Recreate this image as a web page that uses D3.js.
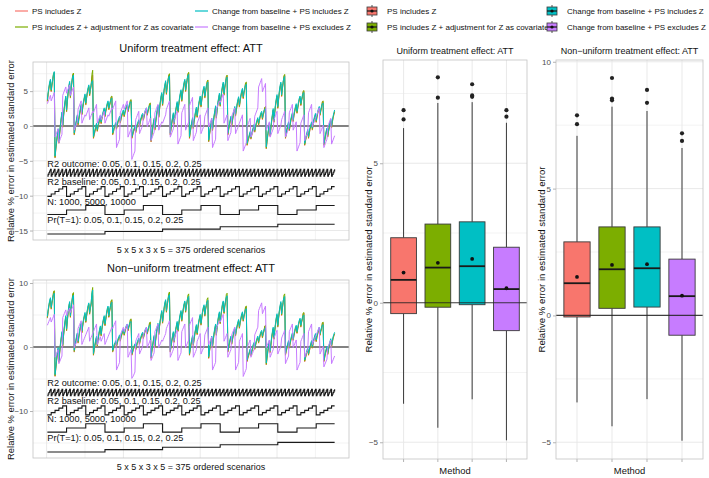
<!DOCTYPE html>
<html><head><meta charset="utf-8">
<script src="https://cdn.jsdelivr.net/npm/d3@7"></script>
<style>body{margin:0;background:#fff}text{font-family:"Liberation Sans",Arial,Helvetica,sans-serif}</style>
</head><body><svg id="c" width="709" height="478"></svg>
<script>
// ---------------- DATA ----------------
const methods = ["PS includes Z","PS includes Z + adjustment for Z as covariate","Change from baseline + PS includes Z","Change from baseline + PS excludes Z"];
const methodColors = ["#F8766D","#7CAE00","#00BFC4","#C77CFF"];

const r2OutcomeLevels = [0.05,0.1,0.15,0.2,0.25];
const r2BaselineLevels = [0.05,0.1,0.15,0.2,0.25];
const nLevels = [1000,5000,10000];
const prTreatLevels = [0.05,0.1,0.15,0.2,0.25];
const factorLabels = ["R2 outcome: 0.05, 0.1, 0.15, 0.2, 0.25","R2 baseline: 0.05, 0.1, 0.15, 0.2, 0.25","N: 1000, 5000, 10000","Pr(T=1): 0.05, 0.1, 0.15, 0.2, 0.25"];
const xLabel = "5 x 5 x 3 x 5 = 375 ordered scenarios";
const yLabel = "Relative % error in estimated standard error";

// Uniform treatment effect: relative % error, 375 ordered scenarios per method
const uniformPSZ = [
3.5,4.5,5.3,6.0,6.4,4.9,5.8,6.5,7.4,7.6,-4.6,-3.4,-2.4,-1.5,-0.7,-2.5,-1.2,-0.1,0.9,1.7,-0.2,1.2,2.4,3.3,4.0,
2.0,3.4,4.6,5.5,6.1,4.0,5.3,6.2,7.3,7.5,-1.3,-0.6,0.1,0.7,1.3,0.1,0.9,1.6,2.2,2.8,1.6,2.5,3.2,3.8,4.3,
3.0,3.9,4.6,5.2,5.6,4.3,5.1,5.7,7.0,7.3,-1.8,-1.3,-0.8,-0.3,0.1,-0.8,-0.2,0.3,0.8,1.2,0.3,1.0,1.5,1.9,2.3,
1.3,2.0,2.5,3.0,3.3,2.3,2.9,3.3,4.1,4.2,-1.3,-0.9,-0.4,-0.1,0.2,-0.5,0.0,0.5,0.8,1.1,0.4,1.0,1.4,1.8,2.0,
1.3,1.8,2.3,2.6,2.8,2.0,2.5,2.9,3.6,3.7,-1.8,-1.4,-0.9,-0.6,-0.3,-1.0,-0.5,0.0,0.3,0.6,-0.1,0.5,0.9,1.3,1.5,
0.8,1.3,1.8,2.1,2.3,1.5,2.0,2.4,3.1,3.2,-2.3,-1.4,-0.6,0.2,0.8,-0.6,0.4,1.3,2.0,2.7,1.2,2.3,3.2,4.0,4.5,
2.9,4.0,5.0,5.7,6.2,4.5,5.5,6.3,7.2,7.4,-1.3,-0.5,0.3,1.0,1.6,0.2,1.1,2.0,2.6,3.2,1.9,2.9,3.7,4.4,4.9,
3.5,4.5,5.3,6.0,6.4,4.9,5.8,6.5,7.4,7.6,-1.8,-1.0,-0.3,0.3,0.9,-0.4,0.5,1.2,1.9,2.4,1.2,2.1,2.9,3.5,4.0,
2.7,3.6,4.4,5.0,5.4,4.0,4.8,5.5,6.3,6.5,-2.3,-1.4,-0.6,0.1,0.8,-0.7,0.3,1.2,1.9,2.6,1.1,2.2,3.1,3.8,4.4,
2.8,3.9,4.8,5.5,6.0,4.4,5.4,6.1,7.0,7.2,-1.3,-0.6,0.0,0.6,1.1,0.0,0.7,1.4,2.0,2.5,1.4,2.2,2.9,3.5,3.9,
2.7,3.5,4.2,4.8,5.1,3.9,4.7,5.2,6.1,6.2,-2.8,-2.3,-1.9,-1.5,-1.1,-1.9,-1.4,-0.9,-0.5,-0.1,-0.9,-0.3,0.2,0.6,0.9,
0.1,0.7,1.2,1.6,1.8,0.9,1.5,1.9,2.6,2.7,-3.3,-2.3,-1.4,-0.6,0.1,-1.5,-0.4,0.6,1.4,2.2,0.5,1.8,2.8,3.6,4.2,
2.5,3.7,4.7,5.5,6.0,4.2,5.3,6.1,7.1,7.3,-1.8,-1.2,-0.6,-0.1,0.3,-0.7,0.0,0.7,1.2,1.6,0.6,1.4,2.0,2.5,2.9,
1.8,2.5,3.2,3.7,4.0,2.9,3.6,4.1,4.9,5.0,-2.8,-2.2,-1.7,-1.2,-0.8,-1.8,-1.1,-0.5,-0.1,0.3,-0.6,0.1,0.7,1.1,1.5,
0.5,1.2,1.8,2.2,2.5,1.5,2.1,2.6,3.4,3.5,-2.8,-2.2,-1.6,-1.0,-0.6,-1.6,-0.9,-0.3,0.3,0.7,-0.3,0.5,1.1,1.6,2.0];
const uniformPSZAdj = [
3.6,4.6,5.4,6.1,6.5,5.0,5.9,6.6,7.5,7.7,-4.5,-3.3,-2.3,-1.4,-0.6,-2.4,-1.1,0.0,1.0,1.8,-0.1,1.3,2.5,3.4,4.1,
2.1,3.5,4.7,5.6,6.2,4.1,5.4,6.3,7.4,7.6,-1.2,-0.5,0.2,0.8,1.4,0.2,1.0,1.7,2.3,2.9,1.7,2.6,3.3,3.9,4.4,
3.1,4.0,4.7,5.3,5.7,4.4,5.2,5.8,7.4,8.0,-1.7,-1.2,-0.7,-0.2,0.2,-0.7,-0.1,0.4,0.9,1.3,0.4,1.1,1.6,2.0,2.4,
1.4,2.1,2.6,3.1,3.4,2.4,3.0,3.4,4.2,4.3,-1.2,-0.8,-0.3,0.0,0.3,-0.4,0.1,0.6,0.9,1.2,0.5,1.1,1.5,1.9,2.1,
1.4,1.9,2.4,2.7,2.9,2.1,2.6,3.0,3.7,3.8,-1.7,-1.3,-0.8,-0.5,-0.2,-0.9,-0.4,0.1,0.4,0.7,0.0,0.6,1.0,1.4,1.6,
0.9,1.4,1.9,2.2,2.4,1.6,2.1,2.5,3.2,3.3,-2.2,-1.3,-0.5,0.3,0.9,-0.5,0.5,1.4,2.1,2.8,1.3,2.4,3.3,4.1,4.6,
3.0,4.1,5.1,5.8,6.3,4.6,5.6,6.4,7.3,7.5,-1.2,-0.4,0.4,1.1,1.7,0.3,1.2,2.1,2.7,3.3,2.0,3.0,3.8,4.5,5.0,
3.6,4.6,5.4,6.1,6.5,5.0,5.9,6.6,7.5,7.7,-1.7,-0.9,-0.2,0.4,1.0,-0.3,0.6,1.3,2.0,2.5,1.3,2.2,3.0,3.6,4.1,
2.8,3.7,4.5,5.1,5.5,4.1,4.9,5.6,6.4,6.6,-2.2,-1.3,-0.5,0.2,0.9,-0.6,0.4,1.3,2.0,2.7,1.2,2.3,3.2,3.9,4.5,
2.9,4.0,4.9,5.6,6.1,4.5,5.5,6.2,7.1,7.3,-1.2,-0.5,0.1,0.7,1.2,0.1,0.8,1.5,2.1,2.6,1.5,2.3,3.0,3.6,4.0,
2.8,3.6,4.3,4.9,5.2,4.0,4.8,5.3,6.2,6.3,-2.7,-2.2,-1.8,-1.4,-1.0,-1.8,-1.3,-0.8,-0.4,0.0,-0.8,-0.2,0.3,0.7,1.0,
0.2,0.8,1.3,1.7,1.9,1.0,1.6,2.0,2.7,2.8,-3.2,-2.2,-1.3,-0.5,0.2,-1.4,-0.3,0.7,1.5,2.3,0.6,1.9,2.9,3.7,4.3,
2.6,3.8,4.8,5.6,6.1,4.3,5.4,6.2,7.2,7.4,-1.7,-1.1,-0.5,0.0,0.4,-0.6,0.1,0.8,1.3,1.7,0.7,1.5,2.1,2.6,3.0,
1.9,2.6,3.3,3.8,4.1,3.0,3.7,4.2,5.0,5.1,-2.7,-2.1,-1.6,-1.1,-0.7,-1.7,-1.0,-0.4,0.0,0.4,-0.5,0.2,0.8,1.2,1.6,
0.6,1.3,1.9,2.3,2.6,1.6,2.2,2.7,3.5,3.6,-2.7,-2.1,-1.5,-0.9,-0.5,-1.5,-0.8,-0.2,0.4,0.8,-0.2,0.6,1.2,1.7,2.1];
const uniformCBPSZ = [
3.8,4.8,5.6,6.3,6.7,5.2,6.1,6.8,7.4,7.8,-4.3,-3.1,-2.1,-1.2,-0.4,-2.2,-0.9,0.2,1.2,2.0,0.1,1.5,2.7,3.6,4.3,
2.3,3.7,4.9,5.8,6.4,4.3,5.6,6.5,7.1,7.3,-1.0,-0.3,0.4,1.0,1.6,0.4,1.2,1.9,2.5,3.1,1.9,2.8,3.5,4.1,4.6,
3.3,4.2,4.9,5.5,5.9,4.6,5.4,6.0,6.4,6.5,-1.5,-1.0,-0.5,0.0,0.4,-0.5,0.1,0.6,1.1,1.5,0.6,1.3,1.8,2.2,2.6,
1.6,2.3,2.8,3.3,3.6,2.6,3.2,3.6,3.9,4.0,-1.0,-0.6,-0.1,0.2,0.5,-0.2,0.3,0.8,1.1,1.4,0.7,1.3,1.7,2.1,2.3,
1.6,2.1,2.6,2.9,3.1,2.3,2.8,3.2,3.4,3.5,-1.5,-1.1,-0.6,-0.3,0.0,-0.7,-0.2,0.3,0.6,0.9,0.2,0.8,1.2,1.6,1.8,
1.1,1.6,2.1,2.4,2.6,1.8,2.3,2.7,2.9,3.0,-2.0,-1.1,-0.3,0.5,1.1,-0.3,0.7,1.6,2.3,3.0,1.5,2.6,3.5,4.3,4.8,
3.2,4.3,5.3,6.0,6.5,4.8,5.8,6.6,7.0,7.2,-1.0,-0.2,0.6,1.3,1.9,0.5,1.4,2.3,2.9,3.5,2.2,3.2,4.0,4.7,5.2,
3.8,4.8,5.6,6.3,6.7,5.2,6.1,6.8,7.2,7.4,-1.5,-0.7,0.0,0.6,1.2,-0.1,0.8,1.5,2.2,2.7,1.5,2.4,3.2,3.8,4.3,
3.0,3.9,4.7,5.3,5.7,4.3,5.1,5.8,6.1,6.3,-2.0,-1.1,-0.3,0.4,1.1,-0.4,0.6,1.5,2.2,2.9,1.4,2.5,3.4,4.1,4.7,
3.1,4.2,5.1,5.8,6.3,4.7,5.7,6.4,6.8,7.0,-1.0,-0.3,0.3,0.9,1.4,0.3,1.0,1.7,2.3,2.8,1.7,2.5,3.2,3.8,4.2,
3.0,3.8,4.5,5.1,5.4,4.2,5.0,5.5,5.9,6.0,-2.5,-2.0,-1.6,-1.2,-0.8,-1.6,-1.1,-0.6,-0.2,0.2,-0.6,0.0,0.5,0.9,1.2,
0.4,1.0,1.5,1.9,2.1,1.2,1.8,2.2,2.4,2.5,-3.0,-2.0,-1.1,-0.3,0.4,-1.2,-0.1,0.9,1.7,2.5,0.8,2.1,3.1,3.9,4.5,
2.8,4.0,5.0,5.8,6.3,4.5,5.6,6.4,6.9,7.1,-1.5,-0.9,-0.3,0.2,0.6,-0.4,0.3,1.0,1.5,1.9,0.9,1.7,2.3,2.8,3.2,
2.1,2.8,3.5,4.0,4.3,3.2,3.9,4.4,4.7,4.8,-2.5,-1.9,-1.4,-0.9,-0.5,-1.5,-0.8,-0.2,0.2,0.6,-0.3,0.4,1.0,1.4,1.8,
0.8,1.5,2.1,2.5,2.8,1.8,2.4,2.9,3.2,3.3,-2.5,-1.9,-1.3,-0.7,-0.3,-1.3,-0.6,0.0,0.6,1.0,0.0,0.8,1.4,1.9,2.3];
const uniformCBPSnoZ = [
3.2,3.5,3.8,4.1,4.4,3.6,3.9,4.2,4.5,4.8,-1.6,-1.3,-1.0,-0.7,-0.4,-2.4,-2.1,-1.8,-1.5,-1.2,4.4,4.7,5.0,5.3,5.6,
4.7,5.0,5.3,5.6,5.9,4.4,4.7,5.0,5.3,5.6,-0.6,-0.3,0.0,0.3,0.6,2.4,2.7,3.0,3.3,3.6,0.4,0.7,1.0,1.3,1.6,
1.4,1.7,2.0,2.3,2.6,0.9,1.2,1.5,1.8,2.1,1.9,2.2,2.5,2.8,3.1,0.4,0.7,1.0,1.3,1.6,0.9,1.2,1.5,1.8,2.1,
0.4,0.7,1.0,1.3,1.6,1.4,1.7,2.0,2.3,2.6,2.4,2.7,3.0,3.3,3.6,-3.1,-2.8,-2.5,-2.2,-1.9,1.9,2.2,2.5,2.8,3.1,
2.4,2.7,3.0,3.3,3.6,-1.6,-1.3,-1.0,-0.7,-0.4,-4.8,-4.5,-4.2,-3.9,-3.6,0.9,1.2,1.5,1.8,2.1,-1.1,-0.8,-0.5,-0.2,0.1,
1.4,1.7,2.0,2.3,2.6,-0.1,0.2,0.5,0.8,1.1,-2.1,-1.8,-1.5,-1.2,-0.9,1.9,2.2,2.5,2.8,3.1,-0.6,-0.3,0.0,0.3,0.6,
0.4,0.7,1.0,1.3,1.6,2.4,2.7,3.0,3.3,3.6,-1.6,-1.3,-1.0,-0.7,-0.4,0.9,1.2,1.5,1.8,2.1,-2.6,-2.3,-2.0,-1.7,-1.4,
1.9,2.2,2.5,2.8,3.1,-0.6,-0.3,0.0,0.3,0.6,2.9,3.2,3.5,3.8,4.1,-2.1,-1.8,-1.5,-1.2,-0.9,0.4,0.7,1.0,1.3,1.6,
-1.1,-0.8,-0.5,-0.2,0.1,1.4,1.7,2.0,2.3,2.6,-0.1,0.2,0.5,0.8,1.1,-3.1,-2.8,-2.5,-2.2,-1.9,2.4,2.7,3.0,3.3,3.6,
3.4,3.7,4.0,4.3,4.6,0.4,0.7,1.0,1.3,1.6,-2.1,-1.8,-1.5,-1.2,-0.9,1.4,1.7,2.0,2.3,2.6,-1.1,-0.8,-0.5,-0.2,0.1,
0.4,0.7,1.0,1.3,1.6,-3.6,-3.3,-3.0,-2.7,-2.4,-0.1,0.2,0.5,0.8,1.1,-1.6,-1.3,-1.0,-0.7,-0.4,1.4,1.7,2.0,2.3,2.6,
5.6,5.9,6.2,6.5,6.8,4.9,5.2,5.5,5.8,6.1,-0.6,-0.3,0.0,0.3,0.6,-1.6,-1.3,-1.0,-0.7,-0.4,0.9,1.2,1.5,1.8,2.1,
-1.1,-0.8,-0.5,-0.2,0.1,0.9,1.2,1.5,1.8,2.1,-1.6,-1.3,-1.0,-0.7,-0.4,1.9,2.2,2.5,2.8,3.1,-0.6,-0.3,0.0,0.3,0.6,
-3.6,-3.3,-3.0,-2.7,-2.4,0.4,0.7,1.0,1.3,1.6,-2.1,-1.8,-1.5,-1.2,-0.9,1.9,2.2,2.5,2.8,3.1,-0.1,0.2,0.5,0.8,1.1,
1.4,1.7,2.0,2.3,2.6,-1.1,-0.8,-0.5,-0.2,0.1,-3.1,-2.8,-2.5,-2.2,-1.9,-0.1,0.2,0.5,0.8,1.1,-2.6,-2.3,-2.0,-1.7,-1.4];

// Non-uniform treatment effect
const nonuniformPSZ = [
4.5,5.5,6.3,7.0,7.4,5.9,6.8,7.5,8.5,8.7,-4.6,-3.4,-2.2,-1.2,-0.4,-2.4,-1.0,0.2,1.2,2.1,0.1,1.6,2.8,3.8,4.6,
2.5,4.0,5.2,6.2,6.8,4.6,5.9,6.9,8.2,8.4,-0.8,0.0,0.7,1.4,1.9,0.6,1.5,2.3,3.0,3.5,2.2,3.2,4.0,4.6,5.1,
3.8,4.7,5.5,6.2,6.6,5.1,6.0,6.6,7.8,8.0,-1.3,-0.5,0.2,0.9,1.4,0.1,1.0,1.8,2.5,3.0,1.7,2.7,3.5,4.1,4.6,
3.3,4.2,5.0,5.7,6.1,4.6,5.5,6.1,7.1,7.3,-0.8,-0.4,0.1,0.4,0.7,0.0,0.5,1.0,1.3,1.6,0.9,1.5,1.9,2.3,2.5,
1.8,2.3,2.8,3.1,3.3,2.5,3.0,3.4,4.2,4.3,-1.3,-0.9,-0.4,-0.1,0.2,-0.5,0.0,0.5,0.8,1.1,0.4,1.0,1.4,1.8,2.0,
1.3,1.8,2.3,2.6,2.8,2.0,2.5,2.9,3.7,3.8,-1.8,-0.8,0.0,0.8,1.5,-0.1,1.0,2.0,2.8,3.4,1.9,3.1,4.0,4.8,5.4,
3.7,4.9,5.9,6.7,7.1,5.4,6.4,7.2,7.8,7.9,-0.8,0.0,0.8,1.5,2.1,0.7,1.6,2.5,3.1,3.7,2.4,3.4,4.2,4.9,5.4,
4.0,5.0,5.8,6.5,6.9,5.4,6.3,7.0,7.6,7.7,-1.3,-0.5,0.3,0.9,1.5,0.2,1.1,1.9,2.6,3.2,1.9,2.9,3.7,4.3,4.8,
3.4,4.4,5.3,5.9,6.3,4.8,5.8,6.4,7.1,7.2,-1.8,-0.8,0.0,0.8,1.4,-0.1,1.0,1.9,2.7,3.3,1.8,3.0,3.9,4.7,5.2,
3.6,4.8,5.7,6.5,6.9,5.2,6.3,7.0,7.6,7.8,-0.8,-0.1,0.4,1.0,1.4,0.4,1.1,1.7,2.3,2.7,1.7,2.5,3.1,3.6,4.0,
2.9,3.7,4.3,4.9,5.2,4.0,4.7,5.2,6.2,6.3,-2.3,-1.8,-1.4,-1.0,-0.6,-1.4,-0.9,-0.4,0.1,0.4,-0.4,0.2,0.7,1.1,1.4,
0.6,1.2,1.7,2.1,2.3,1.4,2.0,2.4,3.2,3.3,-2.8,-1.8,-0.8,0.0,0.7,-0.9,0.2,1.3,2.1,2.8,1.2,2.4,3.4,4.3,4.9,
3.1,4.4,5.4,6.2,6.8,4.9,6.0,6.9,7.6,7.8,-1.3,-0.7,-0.2,0.3,0.7,-0.2,0.4,1.0,1.5,1.9,1.0,1.7,2.3,2.8,3.1,
2.1,2.8,3.4,3.9,4.2,3.1,3.8,4.3,5.2,5.3,-2.3,-1.8,-1.3,-0.8,-0.4,-1.3,-0.7,-0.2,0.3,0.7,-0.2,0.5,1.0,1.4,1.8,
0.8,1.5,2.0,2.5,2.8,1.8,2.4,2.8,3.7,3.8,-2.3,-1.7,-1.1,-0.6,-0.2,-1.2,-0.5,0.1,0.6,1.0,0.0,0.7,1.3,1.7,2.0];
const nonuniformPSZAdj = [
4.6,5.6,6.4,7.1,7.5,6.0,6.9,7.6,8.6,8.8,-4.5,-3.3,-2.1,-1.1,-0.3,-2.3,-0.9,0.3,1.3,2.2,0.2,1.7,2.9,3.9,4.7,
2.6,4.1,5.3,6.3,6.9,4.7,6.0,7.0,8.3,8.5,-0.7,0.1,0.8,1.5,2.0,0.7,1.6,2.4,3.1,3.6,2.3,3.3,4.1,4.7,5.2,
3.9,4.8,5.6,6.3,6.7,5.2,6.1,6.7,8.5,9.3,-1.2,-0.4,0.3,1.0,1.5,0.2,1.1,1.9,2.6,3.1,1.8,2.8,3.6,4.2,4.7,
3.4,4.3,5.1,5.8,6.2,4.7,5.6,6.2,7.2,7.4,-0.7,-0.3,0.2,0.5,0.8,0.1,0.6,1.1,1.4,1.7,1.0,1.6,2.0,2.4,2.6,
1.9,2.4,2.9,3.2,3.4,2.6,3.1,3.5,4.3,4.4,-1.2,-0.8,-0.3,0.0,0.3,-0.4,0.1,0.6,0.9,1.2,0.5,1.1,1.5,1.9,2.1,
1.4,1.9,2.4,2.7,2.9,2.1,2.6,3.0,3.8,3.9,-1.7,-0.7,0.1,0.9,1.6,0.0,1.1,2.1,2.9,3.5,2.0,3.2,4.1,4.9,5.5,
3.8,5.0,6.0,6.8,7.2,5.5,6.5,7.3,8.4,8.6,-0.7,0.1,0.9,1.6,2.2,0.8,1.7,2.6,3.2,3.8,2.5,3.5,4.3,5.0,5.5,
4.1,5.1,5.9,6.6,7.0,5.5,6.4,7.1,8.1,8.3,-1.2,-0.4,0.4,1.0,1.6,0.3,1.2,2.0,2.7,3.3,2.0,3.0,3.8,4.4,4.9,
3.5,4.5,5.4,6.0,6.4,4.9,5.9,6.5,7.5,7.7,-1.7,-0.7,0.1,0.9,1.5,0.0,1.1,2.0,2.8,3.4,1.9,3.1,4.0,4.8,5.3,
3.7,4.9,5.8,6.6,7.0,5.3,6.4,7.1,8.2,8.4,-0.7,0.0,0.5,1.1,1.5,0.5,1.2,1.8,2.4,2.8,1.8,2.6,3.2,3.7,4.1,
3.0,3.8,4.4,5.0,5.3,4.1,4.8,5.3,6.3,6.4,-2.2,-1.7,-1.3,-0.9,-0.5,-1.3,-0.8,-0.3,0.2,0.5,-0.3,0.3,0.8,1.2,1.5,
0.7,1.3,1.8,2.2,2.4,1.5,2.1,2.5,3.3,3.4,-2.7,-1.7,-0.7,0.1,0.8,-0.8,0.3,1.4,2.2,2.9,1.3,2.5,3.5,4.4,5.0,
3.2,4.5,5.5,6.3,6.9,5.0,6.1,7.0,8.1,8.3,-1.2,-0.6,-0.1,0.4,0.8,-0.1,0.5,1.1,1.6,2.0,1.1,1.8,2.4,2.9,3.2,
2.2,2.9,3.5,4.0,4.3,3.2,3.9,4.4,5.3,5.4,-2.2,-1.7,-1.2,-0.7,-0.3,-1.2,-0.6,-0.1,0.4,0.8,-0.1,0.6,1.1,1.5,1.9,
0.9,1.6,2.1,2.6,2.9,1.9,2.5,2.9,3.8,3.9,-2.2,-1.6,-1.0,-0.5,-0.1,-1.1,-0.4,0.2,0.7,1.1,0.1,0.8,1.4,1.8,2.1];
const nonuniformCBPSZ = [
4.8,5.8,6.6,7.3,7.7,6.2,7.1,7.8,8.2,8.4,-4.3,-3.1,-1.9,-0.9,-0.1,-2.1,-0.7,0.5,1.5,2.4,0.4,1.9,3.1,4.1,4.9,
2.8,4.3,5.5,6.5,7.1,4.9,6.2,7.2,7.9,8.1,-0.5,0.3,1.0,1.7,2.2,0.9,1.8,2.6,3.3,3.8,2.5,3.5,4.3,4.9,5.4,
4.1,5.0,5.8,6.5,6.9,5.4,6.3,6.9,8.4,8.9,-1.0,-0.2,0.5,1.2,1.7,0.4,1.3,2.1,2.8,3.3,2.0,3.0,3.8,4.4,4.9,
3.6,4.5,5.3,6.0,6.4,4.9,5.8,6.4,6.8,7.0,-0.5,-0.1,0.4,0.7,1.0,0.3,0.8,1.3,1.6,1.9,1.2,1.8,2.2,2.6,2.8,
2.1,2.6,3.1,3.4,3.6,2.8,3.3,3.7,3.9,4.0,-1.0,-0.6,-0.1,0.2,0.5,-0.2,0.3,0.8,1.1,1.4,0.7,1.3,1.7,2.1,2.3,
1.6,2.1,2.6,2.9,3.1,2.3,2.8,3.2,3.4,3.5,-1.5,-0.5,0.3,1.1,1.8,0.2,1.3,2.3,3.1,3.7,2.2,3.4,4.3,5.1,5.7,
4.0,5.2,6.2,7.0,7.4,5.7,6.7,7.5,8.0,8.2,-0.5,0.3,1.1,1.8,2.4,1.0,1.9,2.8,3.4,4.0,2.7,3.7,4.5,5.2,5.7,
4.3,5.3,6.1,6.8,7.2,5.7,6.6,7.3,7.7,7.9,-1.0,-0.2,0.6,1.2,1.8,0.5,1.4,2.2,2.9,3.5,2.2,3.2,4.0,4.6,5.1,
3.7,4.7,5.6,6.2,6.6,5.1,6.1,6.7,7.1,7.3,-1.5,-0.5,0.3,1.1,1.7,0.2,1.3,2.2,3.0,3.6,2.1,3.3,4.2,5.0,5.5,
3.9,5.1,6.0,6.8,7.2,5.5,6.6,7.3,7.8,8.0,-0.5,0.2,0.7,1.3,1.7,0.7,1.4,2.0,2.6,3.0,2.0,2.8,3.4,3.9,4.3,
3.2,4.0,4.6,5.2,5.5,4.3,5.0,5.5,5.9,6.0,-2.0,-1.5,-1.1,-0.7,-0.3,-1.1,-0.6,-0.1,0.4,0.7,-0.1,0.5,1.0,1.4,1.7,
0.9,1.5,2.0,2.4,2.6,1.7,2.3,2.7,2.9,3.0,-2.5,-1.5,-0.5,0.3,1.0,-0.6,0.5,1.6,2.4,3.1,1.5,2.7,3.7,4.6,5.2,
3.4,4.7,5.7,6.5,7.1,5.2,6.3,7.2,7.7,7.9,-1.0,-0.4,0.1,0.6,1.0,0.1,0.7,1.3,1.8,2.2,1.3,2.0,2.6,3.1,3.4,
2.4,3.1,3.7,4.2,4.5,3.4,4.1,4.6,4.9,5.0,-2.0,-1.5,-1.0,-0.5,-0.1,-1.0,-0.4,0.1,0.6,1.0,0.1,0.8,1.3,1.7,2.1,
1.1,1.8,2.3,2.8,3.1,2.1,2.7,3.1,3.4,3.5,-2.0,-1.4,-0.8,-0.3,0.1,-0.9,-0.2,0.4,0.9,1.3,0.3,1.0,1.6,2.0,2.3];
const nonuniformCBPSnoZ = [
3.4,3.7,4.0,4.3,4.6,3.9,4.2,4.5,4.8,5.1,-1.6,-1.3,-1.0,-0.7,-0.4,-2.6,-2.3,-2.0,-1.7,-1.4,4.6,4.9,5.2,5.5,5.8,
4.9,5.2,5.5,5.8,6.1,5.4,5.7,6.0,6.3,6.6,-0.1,0.2,0.5,0.8,1.1,2.9,3.2,3.5,3.8,4.1,0.4,0.7,1.0,1.3,1.6,
1.9,2.2,2.5,2.8,3.1,0.9,1.2,1.5,1.8,2.1,2.4,2.7,3.0,3.3,3.6,0.4,0.7,1.0,1.3,1.6,0.9,1.2,1.5,1.8,2.1,
0.4,0.7,1.0,1.3,1.6,1.9,2.2,2.5,2.8,3.1,2.9,3.2,3.5,3.8,4.1,-3.6,-3.3,-3.0,-2.7,-2.4,1.9,2.2,2.5,2.8,3.1,
2.4,2.7,3.0,3.3,3.6,-1.6,-1.3,-1.0,-0.7,-0.4,-4.9,-4.7,-4.5,-4.2,-3.9,0.9,1.2,1.5,1.8,2.1,-1.1,-0.8,-0.5,-0.2,0.1,
1.9,2.2,2.5,2.8,3.1,-0.1,0.2,0.5,0.8,1.1,-2.1,-1.8,-1.5,-1.2,-0.9,2.4,2.7,3.0,3.3,3.6,-0.1,0.2,0.5,0.8,1.1,
0.9,1.2,1.5,1.8,2.1,2.9,3.2,3.5,3.8,4.1,-1.6,-1.3,-1.0,-0.7,-0.4,1.4,1.7,2.0,2.3,2.6,-2.1,-1.8,-1.5,-1.2,-0.9,
2.4,2.7,3.0,3.3,3.6,-0.1,0.2,0.5,0.8,1.1,3.4,3.7,4.0,4.3,4.6,-1.6,-1.3,-1.0,-0.7,-0.4,0.9,1.2,1.5,1.8,2.1,
-1.1,-0.8,-0.5,-0.2,0.1,1.9,2.2,2.5,2.8,3.1,0.4,0.7,1.0,1.3,1.6,-3.6,-3.3,-3.0,-2.7,-2.4,2.9,3.2,3.5,3.8,4.1,
3.9,4.2,4.5,4.8,5.1,0.9,1.2,1.5,1.8,2.1,-1.6,-1.3,-1.0,-0.7,-0.4,1.9,2.2,2.5,2.8,3.1,-3.6,-3.3,-3.0,-2.7,-2.4,
0.9,1.2,1.5,1.8,2.1,-4.6,-4.3,-4.0,-3.7,-3.4,-0.1,0.2,0.5,0.8,1.1,-1.6,-1.3,-1.0,-0.7,-0.4,1.9,2.2,2.5,2.8,3.1,
5.7,6.0,6.3,6.6,6.9,5.2,5.5,5.8,6.1,6.4,-0.1,0.2,0.5,0.8,1.1,-1.6,-1.3,-1.0,-0.7,-0.4,1.4,1.7,2.0,2.3,2.6,
-1.1,-0.8,-0.5,-0.2,0.1,1.4,1.7,2.0,2.3,2.6,-2.6,-2.3,-2.0,-1.7,-1.4,2.4,2.7,3.0,3.3,3.6,-0.1,0.2,0.5,0.8,1.1,
-3.6,-3.3,-3.0,-2.7,-2.4,0.9,1.2,1.5,1.8,2.1,-1.6,-1.3,-1.0,-0.7,-0.4,2.4,2.7,3.0,3.3,3.6,0.4,0.7,1.0,1.3,1.6,
1.9,2.2,2.5,2.8,3.1,-1.1,-0.8,-0.5,-0.2,0.1,-3.1,-2.8,-2.5,-2.2,-1.9,-0.1,0.2,0.5,0.8,1.1,-2.6,-2.3,-2.0,-1.7,-1.4];

// Boxplot summaries
const uniformQ1 = [-0.39,-0.16,-0.07,-1.0];
const uniformMedian = [0.82,1.26,1.31,0.49];
const uniformQ3 = [2.33,2.82,2.9,1.99];
const uniformLower = [-3.62,-4.48,-3.46,-4.93];
const uniformUpper = [6.26,7.16,7.19,6.45];
const uniformMean = [1.08,1.43,1.57,0.52];
const uniformOutliers = [[6.57,6.9],[7.35,8.08],[7.38,7.43,7.83],[6.67,6.9]];
const nonuniformQ1 = [-0.06,0.28,0.33,-0.78];
const nonuniformMedian = [1.27,1.82,1.86,0.76];
const nonuniformQ3 = [2.9,3.49,3.49,2.22];
const nonuniformLower = [-3.43,-4.37,-3.3,-4.94];
const nonuniformUpper = [7.08,8.23,8.06,6.6];
const nonuniformMean = [1.52,1.99,2.02,0.78];
const nonuniformOutliers = [[7.54,7.89],[8.48,8.55,9.36],[8.38,8.89],[6.88,7.18]];

const lineXTicks = [0,100,200,300];
const lineXMinor = [50,150,250,350];

// ---------------- DRAWING ----------------
const svg = d3.select("#c");
svg.append("rect").attr("width",709).attr("height",478).attr("fill","#fff");
const GRID="#E6E6E6", BORDER="#C4C4C4", TICKTXT="#4D4D4D";

// design table (cross product of factor levels, last factor varies fastest)
const design = d3.cross(prTreatLevels, nLevels, r2BaselineLevels, r2OutcomeLevels)
  .map((d,i)=>({i:i+1, pr:prTreatLevels.indexOf(d[0]), n:nLevels.indexOf(d[1]), r2b:r2BaselineLevels.indexOf(d[2]), r2o:r2OutcomeLevels.indexOf(d[3])}));

function yAxis(g, y, ticks, xpos){
  const ax = d3.axisLeft(y).tickValues(ticks).tickSize(3).tickPadding(2).tickFormat(d=>d<0?"\u2212"+Math.abs(d):d);
  const a = g.append("g").attr("transform",`translate(${xpos},0)`).call(ax);
  a.select(".domain").remove();
  a.selectAll("line").attr("stroke","#B3B3B3");
  a.selectAll("text").attr("fill",TICKTXT).style("font-size","8px");
}

function linePanel(cfg){
  const g = svg.append("g");
  const L=33,R=349;
  const x = d3.scaleLinear().domain([-17.7,393.7]).range([L,R]);
  const y = d3.scaleLinear().domain(cfg.yDomain).range([cfg.bottom,cfg.top]);
  cfg.minor.forEach(v=>g.append("line").attr("x1",L).attr("x2",R).attr("y1",y(v)).attr("y2",y(v)).attr("stroke",GRID).attr("stroke-width",0.5));
  lineXMinor.forEach(v=>{ if(x(v)<R) g.append("line").attr("x1",x(v)).attr("x2",x(v)).attr("y1",cfg.top).attr("y2",cfg.bottom).attr("stroke",GRID).attr("stroke-width",0.5);});
  cfg.ticks.forEach(v=>g.append("line").attr("x1",L).attr("x2",R).attr("y1",y(v)).attr("y2",y(v)).attr("stroke",GRID).attr("stroke-width",0.9));
  lineXTicks.forEach(v=>g.append("line").attr("x1",x(v)).attr("x2",x(v)).attr("y1",cfg.top).attr("y2",cfg.bottom).attr("stroke",GRID).attr("stroke-width",0.9));
  g.append("line").attr("x1",L).attr("x2",R).attr("y1",y(0)).attr("y2",y(0)).attr("stroke","#111").attr("stroke-width",1.1);
  const line = d3.line().x((d,i)=>x(i+1)).y(d=>y(d));
  cfg.series.forEach((s,k)=>g.append("path").attr("d",line(s)).attr("fill","none").attr("stroke",methodColors[k]).attr("stroke-width",1).attr("stroke-linejoin","round"));
  const keys=["r2o","r2b","n","pr"], counts=[r2OutcomeLevels.length,r2BaselineLevels.length,nLevels.length,prTreatLevels.length];
  keys.forEach((k,j)=>{
    const band = d3.scaleLinear().domain([0,counts[j]-1]).range(cfg.bands[j]);
    const st = d3.line().curve(d3.curveStepAfter).x(d=>x(d.i)).y(d=>y(band(d[k])));
    g.append("path").attr("d",st(design)).attr("fill","none").attr("stroke","#1a1a1a").attr("stroke-width",1.1);
    g.append("text").attr("x",x(1)).attr("y",y(cfg.labelY[j])).attr("dominant-baseline","central").style("font-size","9.2px").attr("fill","#111").text(factorLabels[j]);
  });
  g.append("rect").attr("x",L).attr("y",cfg.top).attr("width",R-L).attr("height",cfg.bottom-cfg.top).attr("fill","none").attr("stroke",BORDER).attr("stroke-width",0.8);
  yAxis(g,y,cfg.ticks,L);
  g.append("text").attr("x",191).attr("y",cfg.titleY).attr("text-anchor","middle").attr("dominant-baseline","central").style("font-size","11px").attr("fill","#111").text(cfg.title);
  g.append("text").attr("x",191).attr("y",cfg.xlabY).attr("text-anchor","middle").attr("dominant-baseline","central").style("font-size","9px").attr("fill","#111").text(xLabel);
  g.append("text").attr("transform",`translate(10,${(cfg.top+cfg.bottom)/2}) rotate(-90)`).attr("text-anchor","middle").attr("dominant-baseline","central").style("font-size","9.4px").attr("fill","#111").text(yLabel);
}

linePanel({title:"Uniform treatment effect: ATT", top:62, bottom:240, titleY:48, xlabY:250, yDomain:[-16.36,9.18],
  ticks:[-15,-10,-5,0,5], minor:[-12.5,-7.5,-2.5,2.5,7.5],
  series:[uniformPSZ,uniformPSZAdj,uniformCBPSZ,uniformCBPSnoZ],
  bands:[[-7.2,-6.2],[-10.1,-8.7],[-12.7,-11.4],[-15.5,-14.1]], labelY:[-5.5,-8.1,-10.9,-13.5]});
linePanel({title:"Non\u2212uniform treatment effect: ATT", top:280, bottom:458, titleY:268, xlabY:467, yDomain:[-17.34,10.47],
  ticks:[-10,0,10], minor:[-15,-5,5],
  series:[nonuniformPSZ,nonuniformPSZAdj,nonuniformCBPSZ,nonuniformCBPSnoZ],
  bands:[[-7.6,-6.6],[-10.6,-9.2],[-13.3,-12.0],[-16.4,-14.9]], labelY:[-5.7,-8.4,-11.3,-14.2]});

function boxPanel(cfg){
  const g = svg.append("g");
  const top=60,bottom=459;
  const x = d3.scalePoint().domain(methods).range([cfg.left,cfg.right]).padding(0.6);
  const y = d3.scaleLinear().domain(cfg.yDomain).range([bottom,top]);
  const bw = x.step()*0.75;
  cfg.minor.forEach(v=>g.append("line").attr("x1",cfg.left).attr("x2",cfg.right).attr("y1",y(v)).attr("y2",y(v)).attr("stroke",GRID).attr("stroke-width",0.5));
  cfg.ticks.forEach(v=>g.append("line").attr("x1",cfg.left).attr("x2",cfg.right).attr("y1",y(v)).attr("y2",y(v)).attr("stroke",GRID).attr("stroke-width",0.9));
  methods.forEach(m=>g.append("line").attr("x1",x(m)).attr("x2",x(m)).attr("y1",top).attr("y2",bottom).attr("stroke",GRID).attr("stroke-width",0.9));
  methods.forEach((m,k)=>{
    const cx=x(m);
    g.append("line").attr("x1",cx).attr("x2",cx).attr("y1",y(cfg.upper[k])).attr("y2",y(cfg.q3[k])).attr("stroke","#3a3a3a").attr("stroke-width",1);
    g.append("line").attr("x1",cx).attr("x2",cx).attr("y1",y(cfg.q1[k])).attr("y2",y(cfg.lower[k])).attr("stroke","#3a3a3a").attr("stroke-width",1);
    g.append("rect").attr("x",cx-bw/2).attr("y",y(cfg.q3[k])).attr("width",bw).attr("height",y(cfg.q1[k])-y(cfg.q3[k])).attr("fill",methodColors[k]).attr("stroke","#3a3a3a").attr("stroke-width",0.9);
    g.append("line").attr("x1",cx-bw/2).attr("x2",cx+bw/2).attr("y1",y(cfg.median[k])).attr("y2",y(cfg.median[k])).attr("stroke","#1a1a1a").attr("stroke-width",1.8);
    cfg.outliers[k].forEach(v=>g.append("circle").attr("cx",cx).attr("cy",y(v)).attr("r",2.1).attr("fill","#222"));
    g.append("circle").attr("cx",cx).attr("cy",y(cfg.mean[k])).attr("r",1.9).attr("fill","#111");
    g.append("line").attr("x1",cx).attr("x2",cx).attr("y1",bottom).attr("y2",bottom+3).attr("stroke","#B3B3B3");
  });
  g.append("line").attr("x1",cfg.left).attr("x2",cfg.right).attr("y1",y(0)).attr("y2",y(0)).attr("stroke","#222").attr("stroke-width",1.2).attr("opacity",0.85);
  g.append("rect").attr("x",cfg.left).attr("y",top).attr("width",cfg.right-cfg.left).attr("height",bottom-top).attr("fill","none").attr("stroke",BORDER).attr("stroke-width",0.8);
  yAxis(g,y,cfg.ticks,cfg.left);
  const mid=(cfg.left+cfg.right)/2;
  g.append("text").attr("x",mid).attr("y",51).attr("text-anchor","middle").attr("dominant-baseline","central").style("font-size","9px").attr("fill","#111").text(cfg.title);
  g.append("text").attr("x",mid).attr("y",470).attr("text-anchor","middle").attr("dominant-baseline","central").style("font-size","9.4px").attr("fill","#111").text("Method");
  g.append("text").attr("transform",`translate(${cfg.left-15},${(top+bottom)/2}) rotate(-90)`).attr("text-anchor","middle").attr("dominant-baseline","central").style("font-size","9.6px").attr("fill","#111").text(yLabel);
}
boxPanel({title:"Uniform treatment effect: ATT", left:383, right:527, yDomain:[-5.6,8.7], ticks:[-5,0,5], minor:[-2.5,2.5,7.5],
  q1:uniformQ1, median:uniformMedian, q3:uniformQ3, lower:uniformLower, upper:uniformUpper, mean:uniformMean, outliers:uniformOutliers});
boxPanel({title:"Non\u2212uniform treatment effect: ATT", left:556, right:703, yDomain:[-5.66,10.07], ticks:[-5,0,5,10], minor:[-2.5,2.5,7.5],
  q1:nonuniformQ1, median:nonuniformMedian, q3:nonuniformQ3, lower:nonuniformLower, upper:nonuniformUpper, mean:nonuniformMean, outliers:nonuniformOutliers});

// Legends
const legOrder = [[0,0],[0,1],[1,0],[1,1]];
function lineLegend(){
  const g=svg.append("g");
  const colX=[15,195], rowY=[11,27];
  methods.forEach((m,k)=>{
    const [c,r]=legOrder[k];
    g.append("line").attr("x1",colX[c]).attr("x2",colX[c]+13).attr("y1",rowY[r]).attr("y2",rowY[r]).attr("stroke",methodColors[k]).attr("stroke-width",1.2);
    g.append("text").attr("x",colX[c]+17).attr("y",rowY[r]).attr("dominant-baseline","central").style("font-size","8px").attr("fill","#111").text(m);
  });
}
function boxLegend(){
  const g=svg.append("g");
  const colX=[367,547], rowY=[11,27];
  methods.forEach((m,k)=>{
    const [c,r]=legOrder[k];
    const cx=colX[c]+5, cy=rowY[r];
    g.append("line").attr("x1",cx).attr("x2",cx).attr("y1",cy-6).attr("y2",cy+6).attr("stroke","#3a3a3a").attr("stroke-width",0.9);
    g.append("rect").attr("x",cx-5).attr("y",cy-4).attr("width",10).attr("height",8).attr("fill",methodColors[k]).attr("stroke","#3a3a3a").attr("stroke-width",0.8);
    g.append("line").attr("x1",cx-5).attr("x2",cx+5).attr("y1",cy).attr("y2",cy).attr("stroke","#1a1a1a").attr("stroke-width",1.2);
    g.append("circle").attr("cx",cx).attr("cy",cy).attr("r",1.6).attr("fill","#111");
    g.append("text").attr("x",colX[c]+20).attr("y",cy).attr("dominant-baseline","central").style("font-size","8px").attr("fill","#111").text(m);
  });
}
lineLegend(); boxLegend();
</script></body></html>
